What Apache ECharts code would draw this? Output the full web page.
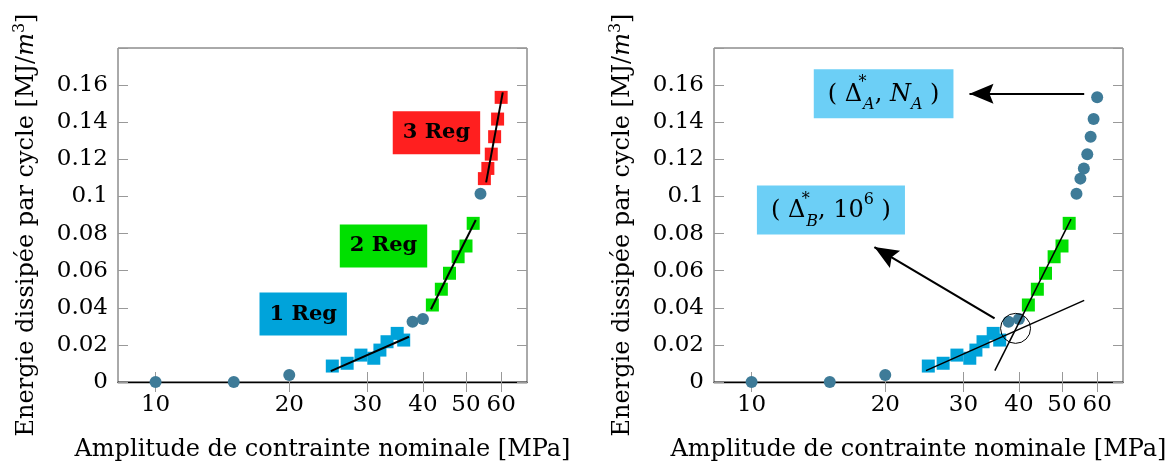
<!DOCTYPE html>
<html>
<head>
<meta charset="utf-8">
<script src="https://cdn.jsdelivr.net/npm/echarts@6/dist/echarts.min.js"></script>
<style>
html,body{margin:0;padding:0;background:#fff;}
#chart{width:1173px;height:461px;}
</style>
</head>
<body>
<div id="chart"></div>
<script>
// ---------- data ----------
const xTickValues = [10, 20, 30, 40, 50, 60];
const xMin = 8.23, xMax = 68.6;
const yMin = 0, yMax = 0.18, yStep = 0.02;

const circX = [10, 15, 20, 37.9, 40.0, 53.9];
const circY = [0, 0, 0.0038, 0.0325, 0.034, 0.1015];

const reg1X = [25.0, 27.0, 29.0, 31.0, 32.0, 33.2, 35.0, 36.2];
const reg1Y = [0.0086, 0.0101, 0.0145, 0.0128, 0.0172, 0.0217, 0.0262, 0.0226];

const reg2X = [42.0, 44.0, 45.9, 48.0, 50.0, 51.9];
const reg2Y = [0.0415, 0.050, 0.0586, 0.0675, 0.0733, 0.0855];

const reg3X = [55.0, 56.0, 57.0, 58.0, 58.9, 60.0];
const reg3Y = [0.1096, 0.1151, 0.1228, 0.1322, 0.1417, 0.1534];

const fit1X = [24.8, 37.2], fit1Y = [0.0059, 0.0244];
const fit2X = [41.7, 52.6], fit2Y = [0.0392, 0.0873];
const fit3X = [55.5, 60.5], fit3Y = [0.1076, 0.1561];

const tan1X = [24.7, 56.1], tan1Y = [0.0061, 0.044];
const tan2X = [35.3, 52.4], tan2Y = [0.0061, 0.0878];

const regNames = ['1 Reg', '2 Reg', '3 Reg'];
const regLabelX = [21.5, 32.6, 42.9];
const regLabelY = [0.0366, 0.0733, 0.1343];

const crossX = [39.3], crossY = [0.0289];
const arrowAX = [56.1, 30.95], arrowAY = [0.1553, 0.1553];
const arrowBX = [35.25, 18.9], arrowBY = [0.0343, 0.0727];
const annotX = [19.83, 15.09], annotY = [0.1553, 0.0927];

const xTitle = 'Amplitude de contrainte nominale [MPa]';

// ---------- helpers ----------
const L = v => Math.log10(v);
const pts = (xs, ys) => xs.map((x, i) => [L(x), ys[i]]);
const FONT = 'DejaVu Serif';
const C_CIRC = '#3e7b98', C_R1 = '#00a3da', C_R2 = '#00e000', C_R3 = '#ff1f1f', C_BOX = '#6ccff6';

const yNameRich = {
  n: {fontFamily: FONT, fontSize: 24, color: '#000', lineHeight: 30},
  i: {fontFamily: FONT, fontSize: 24, fontStyle: 'italic', color: '#000', lineHeight: 30},
  sup: {fontFamily: FONT, fontSize: 16, color: '#000', verticalAlign: 'top', lineHeight: 16}
};

function xAxes(grid) {
  const common = {
    type: 'value', gridIndex: grid, min: L(xMin), max: L(xMax),
    splitLine: {show: false},
    axisTick: {inside: true, length: 10, customValues: xTickValues.map(L), lineStyle: {color: '#999', width: 1}}
  };
  return [
    Object.assign({}, common, {
      position: 'bottom',
      axisLine: {show: true, onZero: false, lineStyle: {color: '#000', width: 1.3}},
      axisLabel: {customValues: xTickValues.map(L), formatter: v => String(Math.round(Math.pow(10, v))),
        fontFamily: FONT, fontSize: 23, color: '#000', margin: 12},
      name: xTitle, nameLocation: 'middle', nameGap: 56,
      nameTextStyle: {fontFamily: FONT, fontSize: 24, color: '#000'}
    }),
    Object.assign({}, common, {
      position: 'top', axisLine: {show: false}, axisLabel: {show: false}
    })
  ];
}
function yAxes(grid) {
  const common = {
    type: 'value', gridIndex: grid, min: yMin, max: yMax, interval: yStep,
    splitLine: {show: false}, axisLine: {show: false},
    axisTick: {inside: true, length: 10, lineStyle: {color: '#999', width: 1}}
  };
  return [
    Object.assign({}, common, {
      position: 'left',
      axisLabel: {formatter: v => (v > yMax - yStep / 2 ? '' : String(+v.toFixed(2))),
        fontFamily: FONT, fontSize: 23, color: '#000', margin: 10},
      name: '{n|Energie dissipée par cycle [MJ/}{i|m}{sup|3}{n|]}',
      nameLocation: 'middle', nameGap: 76, nameRotate: 90,
      nameTextStyle: {rich: yNameRich, padding: [0, 20, 0, 0]}
    }),
    Object.assign({}, common, {position: 'right', axisLabel: {show: false}})
  ];
}

function scatter(name, xs, ys, g, symbol, size, color) {
  return {name, type: 'scatter', xAxisIndex: g * 2, yAxisIndex: g * 2, data: pts(xs, ys),
    symbol, symbolSize: size, itemStyle: {color, opacity: 1}, silent: true, z: 3};
}
function line(name, xs, ys, g, width) {
  return {name, type: 'line', xAxisIndex: g * 2, yAxisIndex: g * 2, data: pts(xs, ys),
    symbol: 'none', lineStyle: {color: '#000', width}, silent: true, z: 5};
}

const regColors = [C_R1, C_R2, C_R3];
const regLabelSeries = {
  type: 'scatter', xAxisIndex: 0, yAxisIndex: 0, symbolSize: 1, silent: true, z: 8,
  itemStyle: {color: 'rgba(0,0,0,0)', opacity: 1},
  data: regNames.map((n, i) => ({
    name: n, value: [L(regLabelX[i]), regLabelY[i]],
    label: {backgroundColor: regColors[i]}
  })),
  label: {show: true, position: 'inside', formatter: p => p.name, fontFamily: FONT, fontWeight: 'bold',
    fontSize: 21, color: '#000', padding: [11, 10, 10, 10], lineHeight: 22, opacity: 1}
};

const annRich = {
  n: {fontFamily: FONT, fontSize: 24, color: '#000', lineHeight: 38},
  i: {fontFamily: FONT, fontSize: 24, fontStyle: 'italic', color: '#000', lineHeight: 38},
  sup: {fontFamily: FONT, fontSize: 16, color: '#000', verticalAlign: 'top', lineHeight: 18},
  star: {fontFamily: FONT, fontSize: 16, color: '#000', verticalAlign: 'top', lineHeight: 18, width: 1},
  sub: {fontFamily: FONT, fontSize: 16, fontStyle: 'italic', color: '#000', verticalAlign: 'bottom', lineHeight: 18}
};
const annTexts = [
  '{n|( Δ}{star|*}{sub|A}{n|, }{i|N}{sub|A}{n| )}',
  '{n|( Δ}{star|*}{sub|B}{n|, 10}{sup|6}{n| )}'
];
const annSeries = {
  type: 'scatter', xAxisIndex: 2, yAxisIndex: 2, symbolSize: 1, silent: true, z: 8,
  itemStyle: {color: 'rgba(0,0,0,0)', opacity: 1},
  data: annTexts.map((t, i) => ({name: t, value: [L(annotX[i]), annotY[i]]})),
  label: {show: true, position: 'inside', formatter: p => p.name, rich: annRich, opacity: 1,
    backgroundColor: C_BOX, padding: [6, 14, 5, 14]}
};

const ARROW = 'path://M10,0L20,24L10,20L0,24Z';
function arrow(xs, ys) {
  return [
    {coord: [L(xs[0]), ys[0]], symbol: 'none'},
    {coord: [L(xs[1]), ys[1]], symbol: ARROW, symbolSize: [20, 24], symbolOffset: [0, 12]}
  ];
}

const tan1 = line('tan1', tan1X, tan1Y, 1, 1.5);
tan1.markLine = {
  silent: true, animation: false, label: {show: false},
  lineStyle: {color: '#000', width: 2.2, type: 'solid', opacity: 1},
  itemStyle: {color: '#000'},
  emphasis: {disabled: true},
  data: [arrow(arrowAX, arrowAY), arrow(arrowBX, arrowBY)]
};

const gridBase = {top: 48, width: 409, height: 334, show: true, borderColor: '#555', borderWidth: 1,
  backgroundColor: 'transparent', containLabel: false, outerBoundsMode: 'none'};

const option = {
  animation: false,
  backgroundColor: '#fff',
  grid: [
    Object.assign({left: 118}, gridBase),
    Object.assign({left: 714}, gridBase)
  ],
  xAxis: xAxes(0).concat(xAxes(1)),
  yAxis: yAxes(0).concat(yAxes(1)),
  series: [
    // left
    scatter('reg1', reg1X, reg1Y, 0, 'rect', 13, C_R1),
    scatter('reg2', reg2X, reg2Y, 0, 'rect', 13, C_R2),
    scatter('reg3', reg3X, reg3Y, 0, 'rect', 13, C_R3),
    scatter('points', circX, circY, 0, 'circle', 12, C_CIRC),
    line('fit1', fit1X, fit1Y, 0, 2),
    line('fit2', fit2X, fit2Y, 0, 2),
    line('fit3', fit3X, fit3Y, 0, 2),
    regLabelSeries,
    // right
    scatter('reg1r', reg1X, reg1Y, 1, 'rect', 13, C_R1),
    scatter('reg2r', reg2X, reg2Y, 1, 'rect', 13, C_R2),
    scatter('pointsr', circX.concat(reg3X), circY.concat(reg3Y), 1, 'circle', 12, C_CIRC),
    tan1,
    line('tan2', tan2X, tan2Y, 1, 1.5),
    {type: 'scatter', xAxisIndex: 2, yAxisIndex: 2, data: pts(crossX, crossY), symbol: 'circle', symbolSize: 30,
      itemStyle: {color: 'rgba(0,0,0,0)', borderColor: '#000', borderWidth: 1, opacity: 1}, silent: true, z: 6},
    annSeries
  ]
};

const chart = echarts.init(document.getElementById('chart'), null, {renderer: 'canvas'});
chart.setOption(option);
</script>
</body>
</html>
